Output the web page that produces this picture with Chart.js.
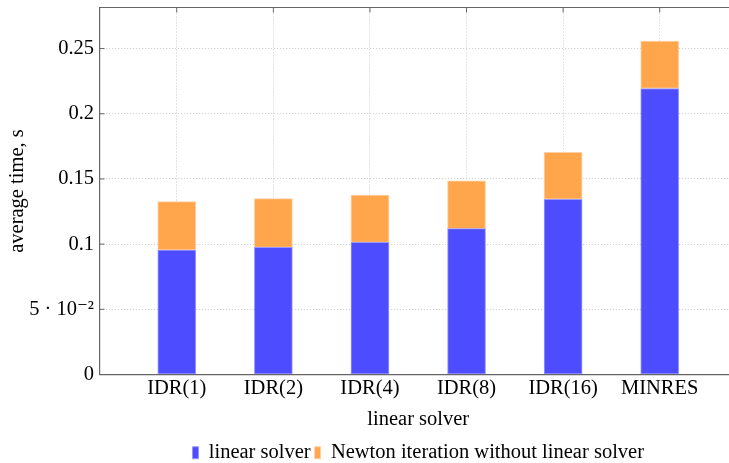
<!DOCTYPE html>
<html>
<head>
<meta charset="utf-8">
<script src="https://cdn.jsdelivr.net/npm/chart.js@4/dist/chart.umd.min.js"></script>
<style>
  html, body { margin: 0; padding: 0; overflow: hidden; background: #fff; }
  #wrap { width: 745px; height: 463px; position: relative; }
</style>
</head>
<body>
<div id="wrap"><canvas id="c"></canvas></div>
<script>
// Average time per Newton step, split into linear-solver time and the rest
const solvers = ['IDR(1)', 'IDR(2)', 'IDR(4)', 'IDR(8)', 'IDR(16)', 'MINRES'];
const linearSolverTime = [0.0955, 0.0975, 0.1014, 0.1119, 0.1344, 0.2194];
const newtonOtherTime  = [0.0371, 0.0374, 0.0363, 0.0366, 0.0361, 0.0364];
const yTickValues = [0, 0.05, 0.1, 0.15, 0.2, 0.25];
const yTickLabels = ['0', '5 · 10⁻²', '0.1', '0.15', '0.2', '0.25'];

const FONT = { family: "'Liberation Serif', 'DejaVu Serif', serif", size: 20.5 };
const AXIS = '#666666';
const GRID = '#c8c8c8';

Chart.defaults.color = '#000';
Chart.defaults.font.family = FONT.family;

// Short inward tick marks plus the upper frame line
const frameTicks = {
  id: 'frameTicks',
  beforeDatasetsDraw(chart) {
    const { ctx, chartArea: a, scales: { x, y } } = chart;
    ctx.save();
    ctx.strokeStyle = AXIS;
    ctx.lineWidth = 1.2;
    ctx.beginPath();
    ctx.moveTo(a.left, a.top);
    ctx.lineTo(a.right, a.top);
    ctx.stroke();
    ctx.lineWidth = 1;
    x.ticks.forEach(t => {
      const px = x.getPixelForValue(t.value);
      ctx.beginPath();
      ctx.moveTo(px, a.top); ctx.lineTo(px, a.top + 5);
      ctx.moveTo(px, a.bottom); ctx.lineTo(px, a.bottom - 5);
      ctx.stroke();
    });
    y.ticks.forEach(t => {
      const py = y.getPixelForValue(t.value);
      ctx.beginPath();
      ctx.moveTo(a.left, py); ctx.lineTo(a.left + 5, py);
      ctx.stroke();
    });
    ctx.restore();
  }
};

new Chart(document.getElementById('c'), {
  type: 'bar',
  data: {
    datasets: [
      {
        label: 'linear solver',
        data: solvers.map((_, i) => ({ x: i, y: linearSolverTime[i] })),
        backgroundColor: '#4d4dff',
        borderColor: '#9898ff',
        borderWidth: 1,
        borderSkipped: false,
        barThickness: 38
      },
      {
        label: 'Newton iteration without linear solver',
        data: solvers.map((_, i) => ({ x: i, y: newtonOtherTime[i] })),
        backgroundColor: '#ffa64d',
        borderColor: '#ffd0a3',
        borderWidth: 1,
        borderSkipped: false,
        barThickness: 38
      }
    ]
  },
  options: {
    responsive: true,
    maintainAspectRatio: false,
    animation: false,
    layout: { padding: { left: 0, right: 8, top: 7.5, bottom: -10 } },
    plugins: {
      tooltip: { enabled: false },
      legend: {
        position: 'bottom',
        fullSize: false,
        labels: {
          font: FONT,
          color: '#000',
          boxWidth: 6,
          boxHeight: 12,
          padding: 4
        }
      }
    },
    scales: {
      x: {
        type: 'linear',
        stacked: true,
        offset: false,
        min: -0.8,
        max: 5.8,
        afterBuildTicks: s => { s.ticks = solvers.map((_, i) => ({ value: i })); },
        afterFit: s => { s.height = 64; s.paddingLeft = 0; s.paddingRight = 0; },
        ticks: {
          font: FONT,
          color: '#000',
          padding: 2,
          autoSkip: false,
          maxRotation: 0,
          callback: v => solvers[v] ?? ''
        },
        grid: {
          offset: false,
          drawTicks: false,
          color: GRID,
          lineWidth: 1
        },
        border: { display: true, color: AXIS, width: 1.2, dash: [1, 2] },
        title: {
          display: true,
          text: 'linear solver',
          font: FONT,
          color: '#000',
          padding: { top: 0, bottom: 6.5 }
        }
      },
      y: {
        stacked: true,
        min: 0,
        max: 0.2815,
        afterBuildTicks: s => { s.ticks = yTickValues.map(v => ({ value: v })); },
        afterFit: s => { s.width = 99.5; s.paddingTop = 0; s.paddingBottom = 0; },
        ticks: {
          font: FONT,
          color: '#000',
          padding: 5.5,
          callback: (v, i) => yTickLabels[i]
        },
        grid: {
          drawTicks: false,
          color: GRID,
          lineWidth: 1
        },
        border: { display: true, color: AXIS, width: 1.2, dash: [1, 2] },
        title: {
          display: true,
          text: 'average time, s',
          font: FONT,
          color: '#000',
          padding: { top: 5.5, bottom: 0 }
        }
      }
    }
  },
  plugins: [frameTicks]
});
</script>
</body>
</html>
